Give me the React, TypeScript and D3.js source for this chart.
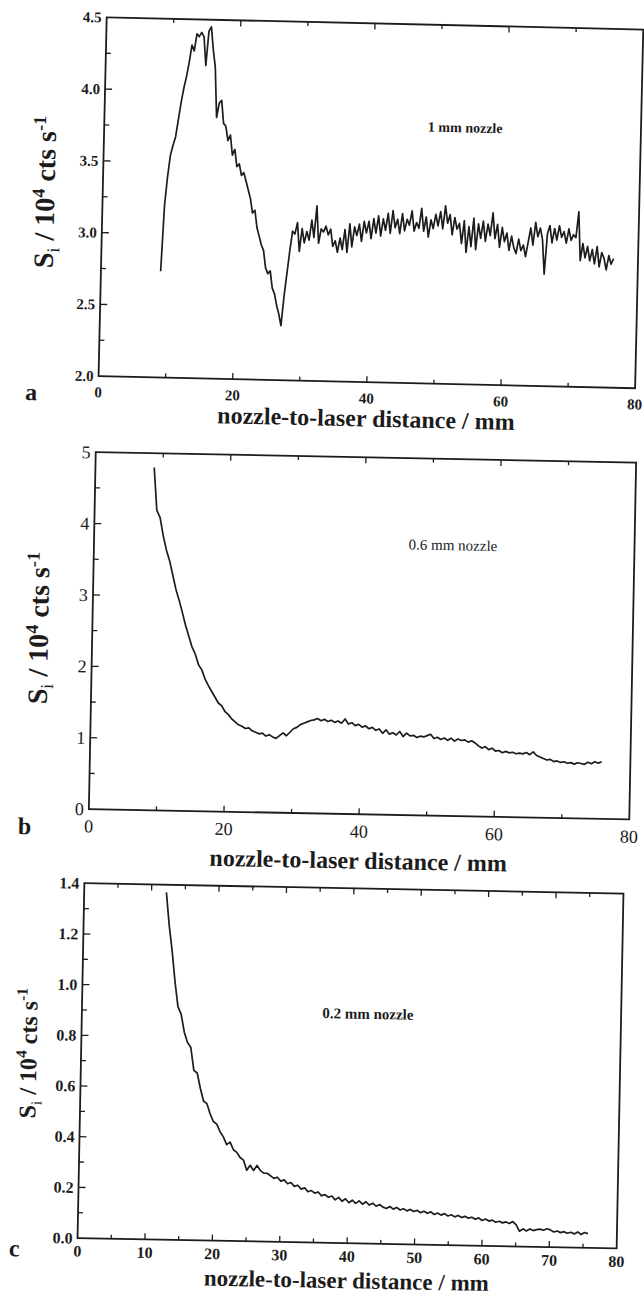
import React from "react";
import * as d3 from "d3";

// distance axis (mm) and signal axis (10^4 cts/s) tick labels
const distanceLabelsAB = [0, 20, 40, 60, 80];
const distanceLabelsC = [0, 10, 20, 30, 40, 50, 60, 70, 80];
const signalLabelsA = [2.0, 2.5, 3.0, 3.5, 4.0, 4.5];
const signalLabelsB = [0, 1, 2, 3, 4, 5];
const signalLabelsC = [0.0, 0.2, 0.4, 0.6, 0.8, 1.0, 1.2, 1.4];

const nozzleLabels = ["1 mm nozzle", "0.6 mm nozzle", "0.2 mm nozzle"];
const panelLetters = ["a", "b", "c"];

// scan grid (mm) for each trace
const startA = 8.9, stepA = 0.355;
const startB = 8.7, stepB = 0.508;
const startC = 12.2, stepC = 0.508;

// 1 mm nozzle
const signalA = [
  2.74, 3.2, 3.4, 3.55, 3.62, 3.68, 3.8, 3.92, 4.02, 4.1,
  4.2, 4.32, 4.28, 4.4, 4.38, 4.41, 4.38, 4.18, 4.42, 4.45,
  4.29, 4.17, 3.82, 3.92, 3.94, 3.78, 3.76, 3.66, 3.7, 3.56,
  3.6, 3.48, 3.5, 3.42, 3.44, 3.38, 3.32, 3.26, 3.16, 3.18,
  3.06, 3.0, 2.94, 2.9, 2.78, 2.74, 2.76, 2.64, 2.6, 2.52,
  2.46, 2.38, 2.58, 2.74, 2.9, 3.04, 3.02, 3.1, 2.9, 3.06,
  2.96, 3.04, 2.98, 3.12, 3.0, 3.22, 2.96, 3.06, 3.04, 3.08,
  3.02, 3.06, 2.94, 2.98, 2.9, 3.0, 2.92, 3.06, 2.9, 3.1,
  2.94, 3.08, 3.02, 3.1, 2.98, 3.12, 3.04, 3.12, 3.0, 3.14,
  3.04, 3.16, 3.02, 3.14, 3.06, 3.18, 3.04, 3.2, 3.08, 3.14,
  3.04, 3.18, 3.06, 3.14, 3.1, 3.2, 3.06, 3.12, 3.08, 3.22,
  3.06, 3.16, 3.02, 3.14, 3.08, 3.18, 3.1, 3.2, 3.08, 3.24,
  3.12, 3.18, 3.04, 3.16, 3.08, 3.12, 2.98, 3.14, 2.92, 3.1,
  2.96, 3.16, 2.94, 3.12, 3.02, 3.14, 3.0, 3.12, 3.04, 3.2,
  3.02, 3.12, 2.96, 3.1, 3.0, 3.06, 2.94, 3.04, 2.96, 2.92,
  3.02, 2.94, 2.98, 2.9, 3.0, 3.1, 2.98, 3.14, 3.04, 3.1,
  3.02, 2.78, 3.06, 3.12, 3.0, 3.1, 3.02, 3.12, 3.04, 3.08,
  3.0, 3.1, 3.02, 3.06, 3.04, 3.22, 2.88, 3.0, 2.9, 2.98,
  2.88, 2.96, 2.86, 2.98, 2.84, 2.94, 2.9, 2.82, 2.92, 2.86,
  2.9,
];

// 0.6 mm nozzle
const signalB = [
  4.8, 4.2, 4.1, 3.85, 3.65, 3.5, 3.3, 3.1, 2.95, 2.78,
  2.6, 2.45, 2.3, 2.2, 2.05, 1.98, 1.85, 1.76, 1.68, 1.6,
  1.52, 1.48, 1.4, 1.36, 1.3, 1.26, 1.22, 1.2, 1.17, 1.18,
  1.14, 1.12, 1.1, 1.11, 1.07, 1.09, 1.06, 1.04, 1.08, 1.12,
  1.08, 1.13, 1.18, 1.2, 1.24, 1.26, 1.28, 1.3, 1.31, 1.33,
  1.3, 1.32, 1.29, 1.31, 1.28, 1.3, 1.27, 1.33, 1.26, 1.28,
  1.24, 1.26, 1.22, 1.24, 1.2, 1.22, 1.18, 1.2, 1.14, 1.19,
  1.13, 1.15, 1.12, 1.17, 1.1, 1.15, 1.11, 1.12, 1.09, 1.11,
  1.1, 1.12, 1.14, 1.08, 1.1, 1.07, 1.09, 1.06, 1.09, 1.05,
  1.08, 1.06, 1.07, 1.04, 1.06, 1.03, 0.99, 0.96, 0.98, 0.94,
  0.96, 0.92, 0.93, 0.9, 0.92, 0.9, 0.91, 0.89, 0.9, 0.89,
  0.91, 0.88, 0.92, 0.87, 0.85, 0.83, 0.81, 0.82, 0.79, 0.8,
  0.78, 0.79, 0.77, 0.78, 0.76, 0.78, 0.77, 0.76, 0.79, 0.77,
  0.8, 0.78, 0.8,
];

// 0.2 mm nozzle
const signalC = [
  1.37, 1.24, 1.14, 1.02, 0.92, 0.89, 0.82, 0.78, 0.76, 0.67,
  0.66, 0.6, 0.55, 0.54, 0.5, 0.47, 0.46, 0.43, 0.41, 0.38,
  0.39, 0.36, 0.35, 0.33, 0.32, 0.28, 0.3, 0.28, 0.3, 0.28,
  0.27, 0.27, 0.26, 0.25, 0.255, 0.24, 0.245, 0.23, 0.235, 0.22,
  0.225, 0.21, 0.215, 0.2, 0.205, 0.195, 0.2, 0.185, 0.19, 0.18,
  0.185, 0.17, 0.18, 0.165, 0.175, 0.16, 0.17, 0.158, 0.168, 0.155,
  0.165, 0.152, 0.16, 0.148, 0.155, 0.145, 0.14, 0.148, 0.138, 0.145,
  0.135, 0.14, 0.132, 0.138, 0.13, 0.135, 0.126, 0.132, 0.124, 0.13,
  0.12, 0.126, 0.118, 0.124, 0.115, 0.12, 0.112, 0.118, 0.11, 0.115,
  0.108, 0.112, 0.104, 0.11, 0.1, 0.106, 0.098, 0.102, 0.094, 0.098,
  0.092, 0.096, 0.09, 0.098, 0.085, 0.06, 0.07, 0.062, 0.07, 0.064,
  0.068, 0.07, 0.066, 0.072, 0.068, 0.06, 0.064, 0.058, 0.062, 0.056,
  0.06, 0.054, 0.062, 0.052, 0.06, 0.056,
];

const serif = "'Liberation Serif', 'Times New Roman', serif";
const ink = "#1c1c1c";

type PanelProps = {
  cx: number; cy: number; w: number; h: number; angle: number;
  xLabels: number[]; xTickStep: number;
  yLabels: number[]; yTickStep: number; yDigits: number;
  start: number; step: number; values: number[];
  letter: string; note: string;
  tickFont: number; tickWeight: string; xLabelY: number;
  letterPos: [number, number]; titleY: number; titleFont: number; yTitlePos: [number, number];
  yTitleFont: number; notePos: [number, number]; noteFont: number; noteWeight: string;
};

function Panel(p: PanelProps) {
  const x = d3.scaleLinear().domain([0, 80]).range([0, p.w]);
  const yExt = d3.extent(p.yLabels) as [number, number];
  const y = d3.scaleLinear().domain(yExt).range([p.h, 0]);
  const pts: [number, number][] = p.values.map((v, i) => [p.start + i * p.step, v]);
  const line = d3.line<[number, number]>().x(d => x(d[0])).y(d => y(d[1]));
  const xMarks = d3.range(p.xTickStep, 80 - 1e-6, p.xTickStep);
  const yMarks = d3.range(yExt[0] + p.yTickStep, yExt[1] - 1e-6, p.yTickStep);
  const isMajorY = (v: number) => p.yLabels.some(l => Math.abs(l - v) < 1e-6);
  const isMajorX = (v: number) => p.xLabels.some(l => Math.abs(l - v) < 1e-6);
  const sub = p.yTitleFont * 0.65;

  return (
    <g transform={`translate(${p.cx},${p.cy}) rotate(${p.angle}) translate(${-p.w / 2},${-p.h / 2})`}
       fontFamily={serif} fill={ink}>
      <rect x={0} y={0} width={p.w} height={p.h} fill="none" stroke={ink} strokeWidth={1.8} />
      {xMarks.map(v => {
        const len = isMajorX(v) ? 6 : 4;
        return (
          <g key={"xt" + v} stroke={ink} strokeWidth={1.3}>
            <line x1={x(v)} x2={x(v)} y1={p.h} y2={p.h - len} />
            <line x1={x(v)} x2={x(v)} y1={0} y2={len} />
          </g>
        );
      })}
      {yMarks.map(v => (
        <line key={"yt" + v} x1={0} x2={isMajorY(v) ? 7 : 5} y1={y(v)} y2={y(v)}
              stroke={ink} strokeWidth={1.3} />
      ))}
      {p.yLabels.map(v => (
        <text key={"yl" + v} x={-5} y={y(v)} dy="0.35em" textAnchor="end"
              fontSize={p.tickFont} fontWeight={p.tickWeight}>
          {v.toFixed(p.yDigits)}
        </text>
      ))}
      {p.xLabels.map(v => (
        <text key={"xl" + v} x={x(v)} y={p.h + p.xLabelY} dy="0.35em" textAnchor="middle"
              fontSize={p.tickFont} fontWeight={p.tickWeight}>
          {v}
        </text>
      ))}
      <path d={line(pts) ?? ""} fill="none" stroke={ink} strokeWidth={1.7} strokeLinejoin="round" />
      <text x={p.notePos[0]} y={p.notePos[1]} dy="0.35em" textAnchor="middle"
            fontSize={p.noteFont} fontWeight={p.noteWeight}>{p.note}</text>
      <text x={p.letterPos[0]} y={p.letterPos[1]} dy="0.35em" textAnchor="middle"
            fontSize={24} fontWeight="bold">{p.letter}</text>
      <text x={p.w / 2} y={p.h + p.titleY} dy="0.35em" textAnchor="middle"
            fontSize={p.titleFont} fontWeight="bold">nozzle-to-laser distance / mm</text>
      <text transform={`translate(${p.yTitlePos[0]},${p.yTitlePos[1]}) rotate(-90)`}
            textAnchor="middle" dy="0.35em" fontSize={p.yTitleFont} fontWeight="bold">
        <tspan>S</tspan>
        <tspan dy={6} fontSize={sub} fontWeight="normal">i</tspan>
        <tspan dy={-6}> / 10</tspan>
        <tspan dy={-10} fontSize={sub}>4</tspan>
        <tspan dy={10}> cts s</tspan>
        <tspan dy={-10} fontSize={sub}>-1</tspan>
      </text>
    </g>
  );
}

export default function App() {
  return (
    <svg width={644} height={1299} viewBox="0 0 644 1299"
         style={{ position: "absolute", left: 0, top: 0, background: "#fff" }}>
      <Panel cx={370.9} cy={202.8} w={536.7} h={358.8} angle={1.3}
             xLabels={distanceLabelsAB} xTickStep={10}
             yLabels={signalLabelsA} yTickStep={0.25} yDigits={1}
             start={startA} step={stepA} values={signalA}
             letter={panelLetters[0]} note={nozzleLabels[0]}
             tickFont={15} tickWeight="bold" xLabelY={16}
             letterPos={[-67, 376]} titleY={36} titleFont={24} yTitlePos={[-58, 176]} yTitleFont={28}
             notePos={[361, 102]} noteFont={14} noteWeight="bold" />
      <Panel cx={362.5} cy={635.8} w={540.5} h={357} angle={1.1}
             xLabels={distanceLabelsAB} xTickStep={10}
             yLabels={signalLabelsB} yTickStep={0.5} yDigits={0}
             start={startB} step={stepB} values={signalB}
             letter={panelLetters[1]} note={nozzleLabels[1]}
             tickFont={18} tickWeight="normal" xLabelY={17}
             letterPos={[-64, 375]} titleY={46} titleFont={24} yTitlePos={[-54, 177]} yTitleFont={28}
             notePos={[359, 86]} noteFont={15} noteWeight="normal" />
      <Panel cx={350.5} cy={1065.8} w={539.2} h={354.9} angle={1.1}
             xLabels={distanceLabelsC} xTickStep={5}
             yLabels={signalLabelsC} yTickStep={0.1} yDigits={1}
             start={startC} step={stepC} values={signalC}
             letter={panelLetters[2]} note={nozzleLabels[2]}
             tickFont={16} tickWeight="bold" xLabelY={13}
             letterPos={[-63, 366]} titleY={37} titleFont={23} yTitlePos={[-53, 171]} yTitleFont={24}
             notePos={[286, 125]} noteFont={15} noteWeight="bold" />
    </svg>
  );
}
